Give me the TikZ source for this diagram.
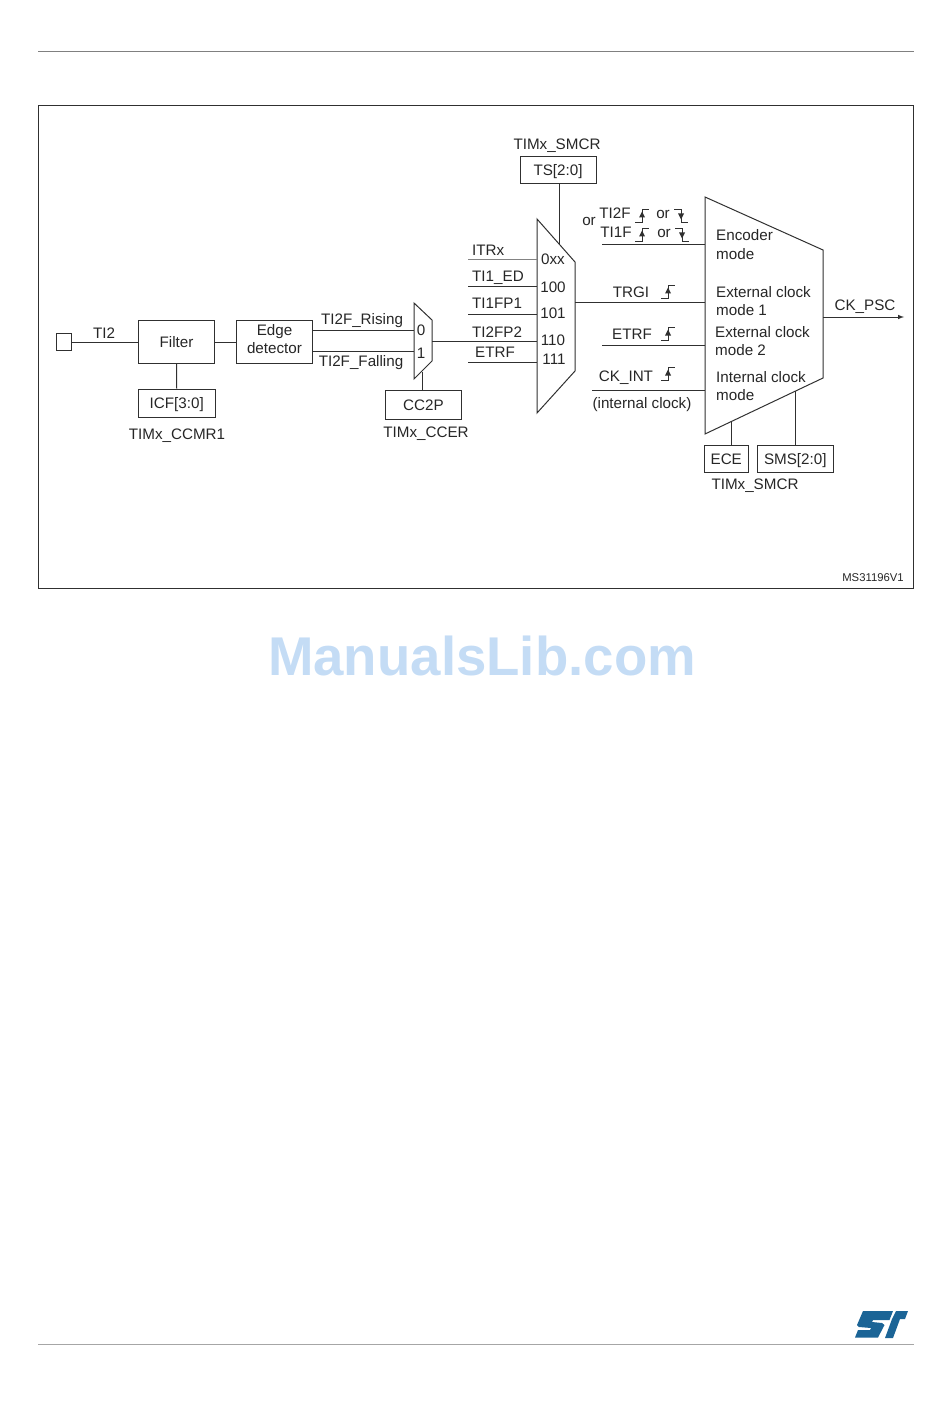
\documentclass[tikz,border=0pt]{standalone}
\usepackage{fontspec}
\setmainfont{Liberation Sans}
\usetikzlibrary{arrows}
\definecolor{rulegray}{HTML}{808080}
\definecolor{wirecol}{HTML}{303030}
\definecolor{wmarkblue}{HTML}{C4DCF5}
\definecolor{logoblue}{HTML}{1B6496}
\tikzset{
	wire/.style = {draw=wirecol, line width=1pt},
	lbl/.style = {inner sep=0pt, font=\fontsize{15.2}{18.5}\selectfont, text=black!85, text height=11pt, text depth=0pt},
	multilbl/.style = {inner sep=0pt, anchor=west, align=left, font=\fontsize{15.2}{18.5}\selectfont, text=black!85},
	blockbox/.style = {draw=wirecol, line width=1pt, inner sep=0pt, minimum width=76.5pt, minimum height=27pt, font=\fontsize{15.2}{18.5}\selectfont, text=black!85, align=center, text height=11pt, text depth=0pt},
	risestep/.pic = {
		\draw[wire, line width=0.8pt] (-7,0) -- (0,0) -- (0,-13) -- (7,-13);
		\fill[wirecol] (-3,-4.5) -- (3,-4.5) -- (0,-10.5) -- cycle;
	},
	fallstep/.pic = {
		\draw[wire, line width=0.8pt] (-7,-13) -- (0,-13) -- (0,0) -- (7,0);
		\fill[wirecol] (-3,-8.5) -- (3,-8.5) -- (0,-2.5) -- cycle;
	}
}
\begin{document}
\begin{tikzpicture}[x=1pt,y=-1pt]
	\useasboundingbox (0,0) rectangle (950,1420);
	% page rules and frame
	\coordinate (ruleAl) at (38,51.5);
	\coordinate (ruleAr) at (914,51.5);
	\coordinate (ruleBl) at (38,1344.5);
	\coordinate (ruleBr) at (914,1344.5);
	\draw[draw=rulegray, line width=1pt] (ruleAl) -- (ruleAr);
	\draw[draw=rulegray!70, line width=1.4pt] (ruleBl) -- (ruleBr);
	\draw[wire] (38.5,105.5) rectangle (913.5,588.5);

	% input side
	\node[draw=wirecol, line width=1pt, minimum width=15pt, minimum height=17pt, inner sep=0pt] (pinTI) at (64,342) {};
	\node[blockbox, minimum height=43pt] (filter) at (176.5,342) {Filter};
	\node[blockbox, minimum height=43pt, text height=, text depth=6.5pt] (edgedet) at (274.5,342) {Edge\\detector};
	\node[blockbox, minimum height=28pt] (icf) at (176.75,403) {ICF[3:0]};
	\node[blockbox, minimum height=29pt] (ccp) at (423.5,404.5) {CC2P};
	\node[blockbox, minimum width=76pt] (tsbox) at (558,170.5) {TS[2:0]};
	\node[blockbox, minimum width=43.5pt] (ecebox) at (726.25,458.5) {ECE};
	\node[blockbox] (smsbox) at (795.25,458.5) {SMS[2:0]};

	\draw[wire] (pinTI.east) -- (filter.west);
	\draw[wire] (filter.east) -- (edgedet.west);
	\draw[wire] (filter.south) -- (icf.north);

	% small selector
	\coordinate (smA) at (414,303);
	\coordinate (smB) at (432,320);
	\coordinate (smC) at (432,361);
	\coordinate (smD) at (414,379);
	\draw[wire] (smA) -- (smB) -- (smC) -- (smD) -- cycle;
	\coordinate (edgeUp) at (313,330);
	\coordinate (edgeDn) at (313,351);
	\coordinate (smUp) at (414,330);
	\coordinate (smDn) at (414,351);
	\coordinate (smOut) at (432,341);
	\coordinate (smFoot) at (422,372);
	\draw[wire] (edgeUp) -- (smUp);
	\draw[wire] (edgeDn) -- (smDn);
	\draw[wire] (smFoot) -- (smFoot |- ccp.north);

	% large selector
	\coordinate (bmA) at (537,219);
	\coordinate (bmB) at (575,262);
	\coordinate (bmC) at (575,371);
	\coordinate (bmD) at (537,413);
	\draw[wire] (bmA) -- (bmB) -- (bmC) -- (bmD) -- cycle;
	\coordinate (bmTop) at (559,244);
	\coordinate (bmIna) at (537,260);
	\coordinate (bmInb) at (537,287);
	\coordinate (bmInc) at (537,314);
	\coordinate (bmInd) at (537,341);
	\coordinate (bmIne) at (537,362);
	\coordinate (srcA) at (468,260);
	\coordinate (srcB) at (468,287);
	\coordinate (srcC) at (468,314);
	\coordinate (srcE) at (468,362);
	\coordinate (bmOut) at (575,303);
	\draw[wire, draw=wirecol!60] (srcA) -- (bmIna);
	\draw[wire] (srcB) -- (bmInb);
	\draw[wire] (srcC) -- (bmInc);
	\draw[wire] (smOut) -- (bmInd);
	\draw[wire] (srcE) -- (bmIne);
	\draw[wire] (tsbox.south -| bmTop) -- (bmTop);

	% slave mode block
	\coordinate (slA) at (705,197);
	\coordinate (slB) at (823,250);
	\coordinate (slC) at (823,378);
	\coordinate (slD) at (705,434);
	\draw[wire] (slA) -- (slB) -- (slC) -- (slD) -- cycle;
	\coordinate (slIna) at (705,245);
	\coordinate (slInb) at (705,303);
	\coordinate (slInc) at (705,345);
	\coordinate (slInd) at (705,390);
	\coordinate (modeA) at (602,245);
	\coordinate (modeC) at (602,345);
	\coordinate (modeD) at (592,390);
	\coordinate (slOut) at (823,317);
	\coordinate (ckpsc) at (904,317);
	\coordinate (slFootA) at (731,422);
	\coordinate (slFootB) at (795.5,391);
	\draw[wire] (modeA) -- (slIna);
	\draw[wire] (bmOut) -- (slInb);
	\draw[wire] (modeC) -- (slInc);
	\draw[wire] (modeD) -- (slInd);
	\draw[wire, -latex] (slOut) -- (ckpsc);
	\draw[wire] (slFootA) -- (slFootA |- ecebox.north);
	\draw[wire] (slFootB) -- (slFootB |- smsbox.north);

	% labels
	\node[lbl] (tTI) at (104,333) {TI2};
	\node[lbl] (tccmr) at (177,434) {TIMx\_CCMR1};
	\node[lbl] (trise) at (362,319) {TI2F\_Rising};
	\node[lbl] (tfall) at (361,361) {TI2F\_Falling};
	\node[lbl] (tzero) at (421,330) {0};
	\node[lbl] (tone) at (421,353) {1};
	\node[lbl] (tccer) at (426,432) {TIMx\_CCER};
	\node[lbl] (tsmcr) at (557,144) {TIMx\_SMCR};
	\node[lbl, anchor=west] (titr) at (472,250) {ITRx};
	\node[lbl, anchor=west] (tied) at (472,276) {TI1\_ED};
	\node[lbl, anchor=west] (tifp) at (472,303) {TI1FP1};
	\node[lbl, anchor=west] (tifq) at (472,332) {TI2FP2};
	\node[lbl, anchor=west] (tetr) at (475,352) {ETRF};
	\node[lbl] (nA) at (553,259) {0xx};
	\node[lbl] (nB) at (553,287) {100};
	\node[lbl] (nC) at (553,313) {101};
	\node[lbl] (nD) at (553,340) {110};
	\node[lbl] (nE) at (554,359) {111};
	\node[lbl] (tor) at (589,220) {or};
	\node[lbl] (tA) at (615,213) {TI2F};
	\node[lbl] (tB) at (616,232) {TI1F};
	\node[lbl] (torA) at (663,213) {or};
	\node[lbl] (torB) at (664,232) {or};
	\node[lbl] (ttrgi) at (631,292) {TRGI};
	\node[lbl] (tetrf) at (632,334) {ETRF};
	\node[lbl] (tckint) at (626,376) {CK\_INT};
	\node[lbl] (tintern) at (642,403) {(internal clock)};
	\node[multilbl] (menc) at (716,244.5) {Encoder\\mode};
	\node[multilbl] (mone) at (716,301) {External clock\\mode 1};
	\node[multilbl] (mtwo) at (715,341) {External clock\\mode 2};
	\node[multilbl] (mint) at (716,386) {Internal clock\\mode};
	\node[lbl] (tpsc) at (865,305) {CK\_PSC};
	\node[lbl] (tsmcrb) at (755,484) {TIMx\_SMCR};
	\node[lbl, font=\fontsize{11.3}{13}\selectfont, text height=8pt] (tref) at (873,577) {MS31196V1};

	% edge symbols
	\pic at (642,222) {risestep};
	\pic at (642,241) {risestep};
	\pic at (681,222) {fallstep};
	\pic at (682,241) {fallstep};
	\pic at (668,298) {risestep};
	\pic at (668,340) {risestep};
	\pic at (668,380) {risestep};

	% page furniture
	\node[inner sep=0pt, text=wmarkblue, font=\bfseries\fontsize{54.6}{60}\selectfont] (wmark) at (482,656) {ManualsLib.com};
	\fill[logoblue] (863,1311) -- (893,1311) -- (889.5,1320) -- (873,1320) -- (872,1322) -- (882,1323) -- (884.5,1325) -- (878,1337.5) -- (855,1337.5) -- (858,1330) -- (870,1330) -- (871,1328) -- (859,1327) -- (857,1325) -- cycle;
	\fill[logoblue] (896,1311) -- (908,1311) -- (905,1319) -- (900,1319) -- (893,1338) -- (885,1338) -- (892,1319) -- (893,1317) -- cycle;
\end{tikzpicture}
\end{document}
